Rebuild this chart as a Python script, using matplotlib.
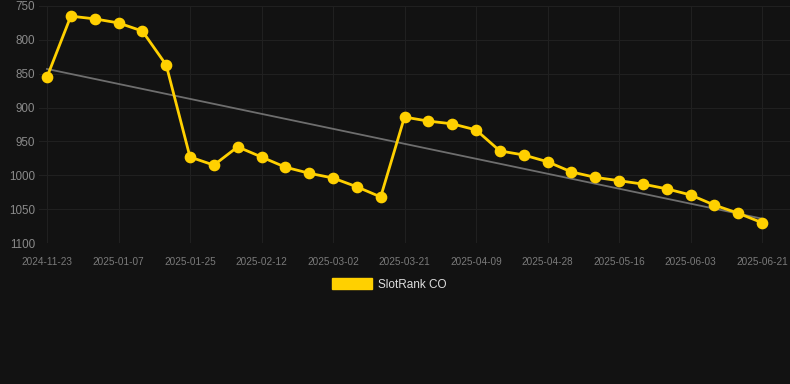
import matplotlib
matplotlib.use("Agg")
import matplotlib.pyplot as plt
import numpy as np

plt.rcParams['font.family'] = ['Liberation Sans', 'DejaVu Sans']

# rank values, one per sample (lower rank number = better, axis is inverted)
rank = [855, 765, 769, 775, 787, 837, 973, 985, 958, 973, 988, 997, 1004, 1017, 1032,
        914, 920, 924, 933, 964, 970, 980, 995, 1003, 1008, 1013, 1020, 1029, 1044, 1056, 1070]
tick_labels = ['2024-11-23', '2025-01-07', '2025-01-25', '2025-02-12', '2025-03-02', '2025-03-21',
               '2025-04-09', '2025-04-28', '2025-05-16', '2025-06-03', '2025-06-21']
tick_step = 3
series_name = 'SlotRank CO'

bg = '#121212'
grid = '#202020'
gold = '#FFD000'

x = np.arange(len(rank))
fit = np.polyfit(x, rank, 1)
trend = np.polyval(fit, x[[0, -1]])

W, H = 790, 384
fig = plt.figure(figsize=(W / 100, H / 100), dpi=100, facecolor=bg)
left, right, top, bottom = 39, 790, 6, 243
ax = fig.add_axes([left / W, 1 - bottom / H, (right - left) / W, (bottom - top) / H])
ax.set_facecolor(bg)

ax.plot(x[[0, -1]], trend, color='#6e6e6e', lw=1.3, zorder=2)
ax.plot(x, rank, color=gold, lw=2.0, marker='o', markersize=7.4, zorder=3, clip_on=False)

spacing = (762 - 47) / 30
ax.set_xlim(-(47 - left) / spacing, 30 + (right - 762) / spacing)
ax.set_ylim(1100, 750)
ax.set_yticks(range(750, 1101, 50))
ax.set_xticks(x[::tick_step])
ax.set_xticklabels(tick_labels)

ax.grid(True, color=grid, lw=0.8)
ax.set_axisbelow(True)
for s in ax.spines.values():
    s.set_visible(False)
ax.tick_params(axis='y', length=0, pad=3, labelsize=8.4, labelcolor='#8a8a8a')
ax.tick_params(axis='x', length=0, pad=10, labelsize=7.2, labelcolor='#7a7a7a')

# legend
fig.patches.append(plt.Rectangle((332 / W, 1 - 289 / H), 40 / W, 11 / H,
                                 transform=fig.transFigure, color=gold, figure=fig))
fig.text(378 / W, 1 - 285 / H, series_name, color='#dddddd', fontsize=8.5, va='center', ha='left')

fig.savefig('out.png', dpi=100, facecolor=bg)
